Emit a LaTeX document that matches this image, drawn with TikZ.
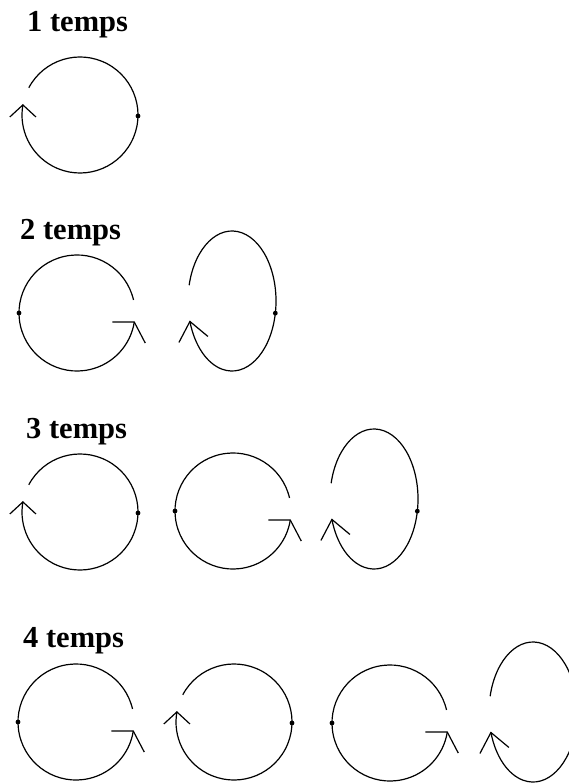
\documentclass[tikz,border=0pt]{standalone}
\usepackage{fontspec}
\setmainfont{Liberation Serif}
\usetikzlibrary{calc}
\tikzset{
  stroke/.style={line width=1.2pt, line cap=butt, line join=miter},
  lbl/.style={anchor=base west, inner sep=0pt, font=\fontsize{30.5}{36}\selectfont\bfseries},
  beatdot/.style={fill=black},
  % circle, dot right, arrow at left pointing up
  loopA/.pic={
    \draw[stroke] (208:58) arc[start angle=208, end angle=550, radius=58];
    \draw[stroke] ($(190:58)+(-13,12)$) -- (190:58) -- ($(190:58)+(13,12)$);
    \fill[beatdot] (1:58) circle[radius=2.4];
  },
  % circle, dot left, arrow at right
  loopB/.pic={
    \draw[stroke] (347:58) arc[start angle=347, end angle=9, radius=58];
    \draw[stroke] ($(9:58)+(-22,0)$) -- (9:58) -- ($(9:58)+(11,21)$);
    \fill[beatdot] (180:58) circle[radius=2.4];
  },
  % tall ellipse, dot right, arrow at left
  loopC/.pic={
    \draw[stroke] (193:44 and 70) arc[start angle=193, end angle=523, x radius=44, y radius=70];
    \draw[stroke] ($(163:44 and 70)+(-11,21)$) -- (163:44 and 70) -- ($(163:44 and 70)+(18,15)$);
    \fill[beatdot] (10:44 and 70) circle[radius=2.4];
  }
}
\begin{document}
\begin{tikzpicture}[x=1pt, y=-1pt]
  \useasboundingbox (0,0) rectangle (569,783);
  \clip (0,0) rectangle (569,783);
  \fill[white] (0,0) rectangle (569,783);

  % 1 temps
  \node[lbl] (l1) at (27,32) {1 temps};
  \pic at (80,115) {loopA};

  % 2 temps
  \node[lbl] (l2) at (20,240) {2 temps};
  \pic at (77,313) {loopB};
  \pic at (232,301) {loopC};

  % 3 temps
  \node[lbl] (l3) at (26,438) {3 temps};
  \pic at (80,512) {loopA};
  \pic at (233,511) {loopB};
  \pic at (374,499) {loopC};

  % 4 temps
  \node[lbl] (l4) at (23,647) {4 temps};
  \pic at (76,722) {loopB};
  \pic at (234,722) {loopA};
  \pic at (390,723) {loopB};
  \pic at (533,712) {loopC};
\end{tikzpicture}
\end{document}
